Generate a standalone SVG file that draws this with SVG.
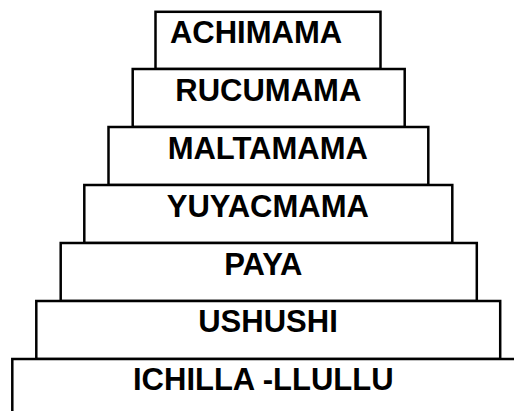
<svg xmlns="http://www.w3.org/2000/svg" width="514" height="411" viewBox="0 0 514 411">
<style>
.box{fill:#fff;stroke:#000;stroke-width:2.5}
.lbl{font-family:"Liberation Sans",Arial,sans-serif;font-weight:bold;font-size:31px;fill:#000;text-anchor:middle}
</style>
<rect width="514" height="411" fill="#fff"/>
<g id="achimama"><rect class="box" x="155.5" y="11.8" width="225" height="57.2"/><text class="lbl" x="256" y="42.5">ACHIMAMA</text></g>
<g id="rucumama"><rect class="box" x="132.7" y="69" width="272" height="58"/><text class="lbl" x="268.3" y="100.5">RUCUMAMA</text></g>
<g id="maltamama"><rect class="box" x="108.5" y="127" width="319.8" height="58"/><text class="lbl" x="267.8" y="158.5">MALTAMAMA</text></g>
<g id="yuyacmama"><rect class="box" x="84.3" y="185" width="368" height="58"/><text class="lbl" x="267.8" y="216.5">YUYACMAMA</text></g>
<g id="paya"><rect class="box" x="60.7" y="243" width="416.1" height="58"/><text class="lbl" x="263.3" y="274.5">PAYA</text></g>
<g id="ushushi"><rect class="box" x="36.3" y="301" width="463.9" height="58"/><text class="lbl" x="268" y="332">USHUSHI</text></g>
<g id="ichilla"><rect class="box" x="12.3" y="359" width="520" height="80"/><text class="lbl" x="263.3" y="390">ICHILLA -LLULLU</text></g>
<g id="connectors"></g>
</svg>
